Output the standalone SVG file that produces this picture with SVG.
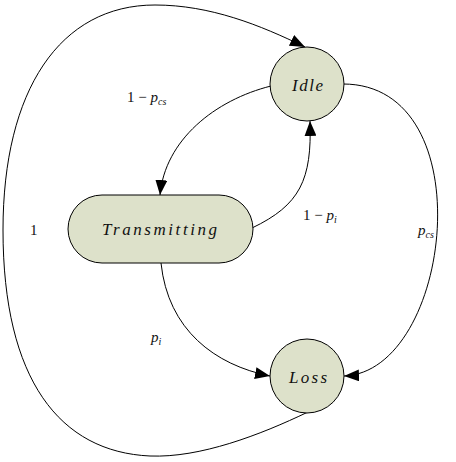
<svg xmlns="http://www.w3.org/2000/svg" width="456" height="462" viewBox="0 0 456 462">
<style>
.node{fill:#dde1ca;stroke:#000;stroke-width:1}
.edge{fill:none;stroke:#000;stroke-width:1}
text{fill:#111}
.lbl{font-size:17px;font-style:italic}
.math{font-size:15px}
.it{font-style:italic}
.sub{font-size:10px;font-style:italic}
</style>
<defs>
<marker id="arr" markerUnits="userSpaceOnUse" markerWidth="16" markerHeight="12" refX="15" refY="6" orient="auto">
<path d="M0,0 L15,6 L0,12 z" fill="#000"/>
</marker>
</defs>
<rect width="456" height="462" fill="#fff"/>
<g id="connectors">
<path class="edge" marker-end="url(#arr)" d="M271 86 C215 100 165 140 160 195"/>
<path class="edge" marker-end="url(#arr)" d="M252 228 C300 205 312 180 310 121"/>
<path class="edge" marker-end="url(#arr)" d="M343 84 C485 84 452 372 344 376"/>
<path class="edge" marker-end="url(#arr)" d="M161 263 C168 330 215 365 270 376"/>
<path class="edge" marker-end="url(#arr)" d="M308 412 C260 435 200 458 150 456 C60 452 3 380 3 230 C3 90 60 5 155 5 C210 5 260 25 305 47"/>
</g>
<g id="node-idle">
<circle class="node" cx="307" cy="84" r="37"/>
<text class="lbl" font-family="Liberation Serif, serif" x="307.5" y="91" text-anchor="middle" textLength="31" lengthAdjust="spacing">Idle</text>
</g>
<g id="node-transmitting">
<rect class="node" x="68" y="195" width="185" height="68" rx="34" ry="34"/>
<text class="lbl" font-family="Liberation Serif, serif" x="159.5" y="235" text-anchor="middle" textLength="115" lengthAdjust="spacing">Transmitting</text>
</g>
<g id="node-loss">
<circle class="node" cx="307" cy="376" r="37"/>
<text class="lbl" font-family="Liberation Serif, serif" x="308" y="383" text-anchor="middle" textLength="38" lengthAdjust="spacing">Loss</text>
</g>
<g id="labels" font-family="Liberation Serif, serif">
<text class="math" x="127" y="102">1 − <tspan class="it">p</tspan><tspan class="sub" dy="3">cs</tspan></text>
<text class="math" x="303" y="220">1 − <tspan class="it">p</tspan><tspan class="sub" dy="3">i</tspan></text>
<text class="math" x="418" y="235"><tspan class="it">p</tspan><tspan class="sub" dy="3">cs</tspan></text>
<text class="math" x="151" y="342"><tspan class="it">p</tspan><tspan class="sub" dy="3">i</tspan></text>
<text class="math" x="30" y="235">1</text>
</g>
</svg>
